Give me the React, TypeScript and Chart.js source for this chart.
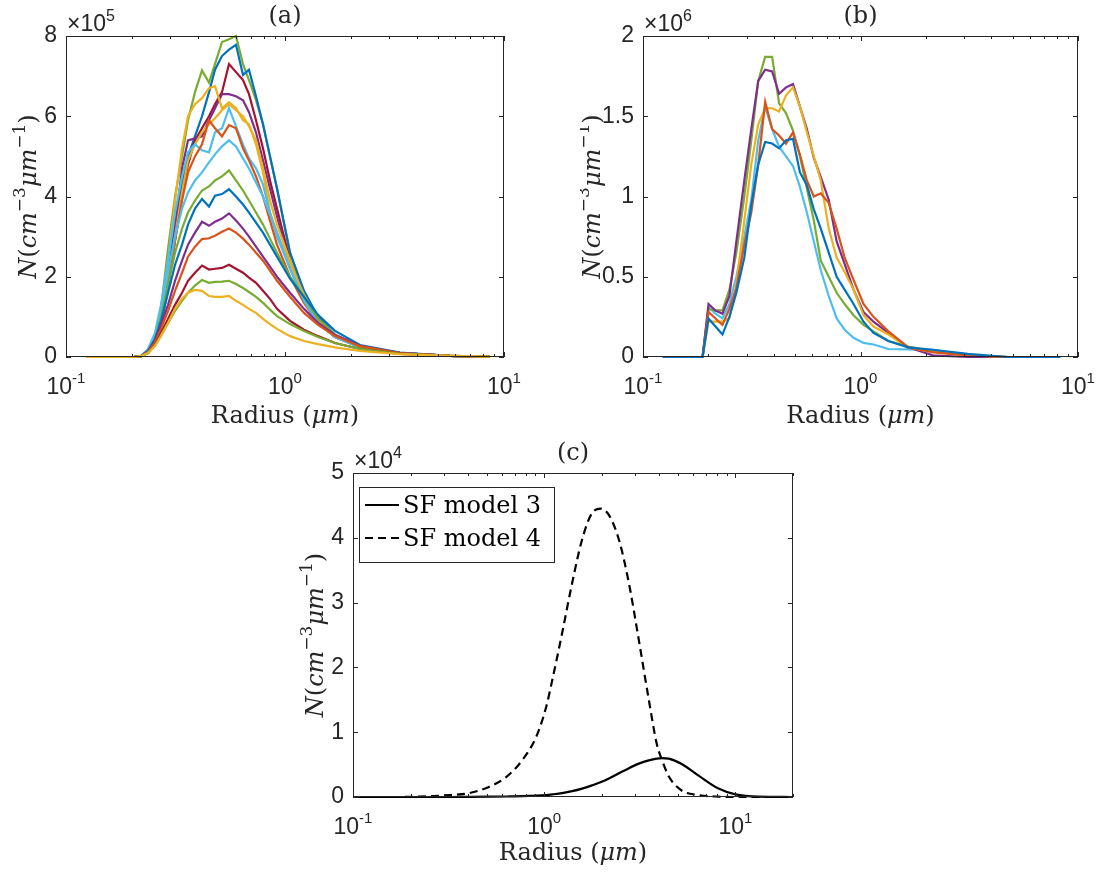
import React, { useEffect, useRef } from 'react';
import { Chart, registerables } from 'chart.js';
Chart.register(...registerables);

const AXIS = '#262626';
const SERIF = '"DejaVu Serif", "Liberation Serif", serif';
const SANS = '"Liberation Sans", Arial, Helvetica, sans-serif';

const BLUE = '#0072BD';
const ORANGE = '#D95319';
const YELLOW = '#EDB120';
const PURPLE = '#7E2F8E';
const GREEN = '#77AC30';
const CYAN = '#4DBEEE';
const DARKRED = '#A2142F';

// ---------- Panel (a): radius (µm) and N in units of 1e5 ----------
const radiusA = [0.1234, 0.2045, 0.22, 0.2368, 0.2549, 0.2716, 0.2924, 0.3147, 0.3387, 0.3607, 0.3882, 0.4178, 0.4498, 0.479, 0.5156, 0.555, 0.5974, 0.643, 0.6848, 0.7371, 0.7934, 0.854, 0.9193, 1.054, 1.221, 1.415, 1.692, 2.2, 3.351, 5.667, 8.633];
const aG1 = [0, 0, 0.02, 0.15, 0.5, 1.2, 2.7, 4.0, 5.0, 5.9, 6.6, 7.14, 6.84, 7.3, 7.85, 7.92, 8.0, 7.3, 6.9, 6.4, 5.8, 5.0, 4.2, 2.6, 1.6, 1.0, 0.55, 0.28, 0.1, 0.03, 0.01];
const aB1 = [0, 0, 0.02, 0.12, 0.45, 1.0, 2.1, 3.3, 4.3, 5.0, 5.5, 6.0, 6.6, 7.16, 7.5, 7.66, 7.78, 7.03, 7.16, 6.5, 5.8, 5.0, 4.2, 2.6, 1.65, 1.0, 0.55, 0.28, 0.1, 0.03, 0.01];
const aR1 = [0, 0, 0.02, 0.12, 0.4, 0.9, 1.8, 2.9, 4.0, 4.8, 5.4, 5.7, 6.0, 6.3, 6.6, 7.3, 7.1, 6.9, 6.55, 5.9, 5.2, 4.4, 3.7, 2.4, 1.5, 0.95, 0.55, 0.25, 0.1, 0.03, 0.01];
const aP1 = [0, 0, 0.02, 0.1, 0.35, 0.8, 1.7, 3.2, 4.7, 5.4, 5.45, 5.5, 5.9, 6.2, 6.55, 6.55, 6.5, 6.4, 6.1, 5.6, 4.9, 4.2, 3.5, 2.3, 1.5, 0.9, 0.5, 0.25, 0.1, 0.03, 0.01];
const aY1 = [0, 0, 0.02, 0.15, 0.5, 1.2, 2.4, 3.9, 5.2, 6.0, 6.3, 6.45, 6.7, 6.75, 6.2, 6.35, 6.2, 5.9, 5.8, 5.3, 4.6, 3.6, 3.1, 2.3, 1.55, 0.95, 0.55, 0.26, 0.1, 0.03, 0.01];
const aY2 = [0, 0, 0.02, 0.12, 0.4, 0.9, 1.8, 3.0, 4.1, 4.9, 5.3, 5.6, 5.8, 5.95, 6.15, 6.3, 6.15, 6.0, 5.75, 5.4, 4.7, 3.9, 3.3, 2.4, 1.5, 0.9, 0.5, 0.25, 0.1, 0.03, 0.01];
const aC1 = [0, 0, 0.03, 0.2, 0.6, 1.3, 2.4, 3.6, 4.5, 5.1, 5.3, 5.15, 5.1, 5.6, 5.7, 6.2, 5.75, 5.3, 4.95, 4.7, 4.3, 3.6, 3.0, 2.2, 1.45, 0.85, 0.5, 0.24, 0.1, 0.03, 0.01];
const aO1 = [0, 0, 0.02, 0.12, 0.4, 0.9, 1.8, 2.9, 3.9, 4.6, 5.0, 5.3, 5.9, 5.7, 5.5, 5.78, 5.7, 5.2, 4.9, 4.5, 4.0, 3.4, 2.8, 2.0, 1.35, 0.85, 0.5, 0.25, 0.1, 0.03, 0.01];
const aC2 = [0, 0, 0.02, 0.15, 0.5, 1.1, 2.1, 3.0, 3.7, 4.1, 4.4, 4.6, 4.85, 5.05, 5.25, 5.4, 5.25, 4.95, 4.7, 4.35, 4.0, 3.55, 3.1, 2.2, 1.4, 0.85, 0.5, 0.24, 0.1, 0.03, 0.01];
const aG2 = [0, 0, 0.02, 0.15, 0.45, 1.0, 1.8, 2.6, 3.2, 3.6, 3.9, 4.15, 4.25, 4.4, 4.5, 4.65, 4.4, 4.15, 3.9, 3.6, 3.3, 2.95, 2.6, 2.0, 1.5, 0.95, 0.55, 0.25, 0.1, 0.03, 0.01];
const aB2 = [0, 0, 0.02, 0.15, 0.45, 0.9, 1.6, 2.3, 2.8, 3.3, 3.7, 3.94, 3.75, 4.02, 4.06, 4.18, 4.0, 3.8, 3.6, 3.35, 3.1, 2.8, 2.5, 1.95, 1.5, 1.05, 0.65, 0.3, 0.11, 0.03, 0.01];
const aP2 = [0, 0, 0.02, 0.12, 0.4, 0.8, 1.3, 1.9, 2.4, 2.8, 3.1, 3.37, 3.27, 3.37, 3.45, 3.58, 3.4, 3.2, 3.0, 2.75, 2.5, 2.25, 2.0, 1.6, 1.2, 0.85, 0.55, 0.28, 0.1, 0.03, 0.01];
const aO2 = [0, 0, 0.02, 0.12, 0.35, 0.7, 1.15, 1.65, 2.1, 2.5, 2.75, 2.94, 2.96, 3.02, 3.12, 3.2, 3.1, 2.95, 2.8, 2.6, 2.4, 2.15, 1.9, 1.5, 1.1, 0.8, 0.52, 0.27, 0.1, 0.03, 0.01];
const aR2 = [0, 0, 0.02, 0.1, 0.3, 0.6, 0.95, 1.3, 1.6, 1.9, 2.1, 2.28, 2.18, 2.2, 2.22, 2.3, 2.2, 2.1, 1.98, 1.85, 1.65, 1.45, 1.2, 0.9, 0.68, 0.52, 0.35, 0.2, 0.08, 0.03, 0.01];
const aG3 = [0, 0, 0.02, 0.1, 0.28, 0.55, 0.85, 1.15, 1.4, 1.6, 1.78, 1.92, 1.85, 1.87, 1.88, 1.9, 1.82, 1.72, 1.62, 1.5, 1.35, 1.18, 1.02, 0.82, 0.65, 0.5, 0.35, 0.2, 0.08, 0.03, 0.01];
const aY3 = [0, 0, 0.02, 0.1, 0.28, 0.52, 0.85, 1.2, 1.45, 1.6, 1.67, 1.65, 1.52, 1.5, 1.5, 1.52, 1.4, 1.3, 1.2, 1.1, 0.95, 0.82, 0.7, 0.52, 0.4, 0.32, 0.24, 0.15, 0.07, 0.03, 0.01];
const yTicksA = [0, 2, 4, 6, 8];

// ---------- Panel (b): radius (µm) and N in units of 1e6 ----------
const radiusB = [0.1234, 0.1879, 0.2001, 0.2154, 0.2319, 0.2496, 0.2687, 0.2923, 0.3147, 0.3387, 0.3645, 0.3924, 0.4223, 0.4546, 0.4893, 0.5267, 0.5668, 0.6101, 0.6568, 0.7144, 0.777, 0.8451, 0.929, 1.032, 1.147, 1.343, 1.657, 2.154, 3.113, 4.741, 8.277];
const bBlue = [0, 0, 0.24, 0.19, 0.14, 0.25, 0.4, 0.62, 0.95, 1.2, 1.34, 1.33, 1.3, 1.35, 1.36, 1.15, 1.07, 0.92, 0.8, 0.65, 0.5, 0.42, 0.33, 0.22, 0.15, 0.1, 0.06, 0.045, 0.02, 0, 0];
const bOrange = [0, 0, 0.28, 0.24, 0.2, 0.3, 0.43, 0.7, 0.9, 1.2, 1.59, 1.42, 1.38, 1.33, 1.4, 1.26, 1.1, 1.0, 1.02, 0.96, 0.8, 0.62, 0.48, 0.33, 0.25, 0.16, 0.06, 0.03, 0.01, 0, 0];
const bYellow = [0, 0, 0.22, 0.22, 0.22, 0.24, 0.45, 0.85, 1.2, 1.45, 1.55, 1.55, 1.53, 1.63, 1.68, 1.56, 1.4, 1.25, 1.1, 0.8, 0.62, 0.53, 0.42, 0.26, 0.19, 0.14, 0.06, 0.03, 0.01, 0, 0];
const bPurple = [0, 0, 0.33, 0.29, 0.27, 0.38, 0.72, 1.1, 1.42, 1.72, 1.79, 1.78, 1.64, 1.68, 1.7, 1.56, 1.42, 1.24, 1.12, 0.98, 0.72, 0.58, 0.42, 0.28, 0.22, 0.15, 0.06, 0.01, 0, 0, 0];
const bGreen = [0, 0, 0.3, 0.29, 0.29, 0.42, 0.65, 1.0, 1.35, 1.72, 1.87, 1.87, 1.58, 1.52, 1.41, 1.25, 1.05, 0.85, 0.6, 0.5, 0.4, 0.33, 0.26, 0.2, 0.16, 0.1, 0.065, 0.035, 0.01, 0, 0];
const bCyan = [0, 0, 0.31, 0.27, 0.24, 0.33, 0.5, 0.75, 0.98, 1.35, 1.56, 1.42, 1.31, 1.25, 1.19, 1.06, 0.9, 0.72, 0.54, 0.38, 0.24, 0.17, 0.12, 0.088, 0.078, 0.05, 0.048, 0.045, 0.01, 0, 0];
const yTicksB = [0, 0.5, 1, 1.5, 2];

// ---------- Panel (c): radius (µm) and N in units of 1e4 ----------
const radiusC = [0.1, 0.1757, 0.261, 0.32, 0.4068, 0.517, 0.6343, 0.7684, 0.9085, 1.024, 1.101, 1.241, 1.399, 1.577, 1.778, 1.982, 2.181, 2.459, 2.772, 3.125, 3.524, 3.877, 4.118, 4.477, 5.234, 6.417, 8.154, 10.0, 13.18, 19.57];
const sfModel3 = [0, 0, 0, 0, 0.002, 0.005, 0.008, 0.012, 0.02, 0.03, 0.04, 0.06, 0.09, 0.13, 0.18, 0.23, 0.285, 0.365, 0.445, 0.515, 0.565, 0.592, 0.6, 0.592, 0.51, 0.33, 0.13, 0.04, 0.005, 0];
const sfModel4 = [0, 0, 0.015, 0.03, 0.06, 0.16, 0.31, 0.57, 0.93, 1.39, 1.8, 2.53, 3.3, 3.97, 4.38, 4.45, 4.35, 3.97, 3.3, 2.42, 1.5, 0.82, 0.58, 0.32, 0.1, 0.03, 0.005, 0, 0, 0];
const yTicksC = [0, 1, 2, 3, 4, 5];
const legendLabels = ['SF model 3', 'SF model 4'];
const xTickDecades = [0.1, 1, 10];
const xTickExps = ['-1', '0', '1'];

type Run = { t: string; f: string; dy?: number };

function runsWidth(ctx: CanvasRenderingContext2D, runs: Run[]) {
  let w = 0;
  for (const r of runs) { ctx.font = r.f; w += ctx.measureText(r.t).width; }
  return w;
}
function drawRuns(ctx: CanvasRenderingContext2D, runs: Run[], x: number, y: number, align: 'left' | 'center') {
  const w = runsWidth(ctx, runs);
  let cx = align === 'left' ? x : x - w / 2;
  ctx.textAlign = 'left';
  ctx.textBaseline = 'alphabetic';
  for (const r of runs) {
    ctx.font = r.f;
    ctx.fillText(r.t, cx, y + (r.dy || 0));
    cx += ctx.measureText(r.t).width;
  }
}

const fSerif = `24px ${SERIF}`;
const fSerifIt = `italic 24px ${SERIF}`;
const fSerifSup = `17px ${SERIF}`;
const fSans = `23px ${SANS}`;
const fSansSup = `15px ${SANS}`;

type Series = { values: number[]; color: string; dash?: number[] };
type Spec = {
  key: string; x: number; y: number; w: number; h: number;
  yWidth: number; padTop: number; padRight: number; xHeight: number;
  xs: number[]; series: Series[]; xMax: number; yMax: number; yTicks: number[];
  title: string; exp: string; yLabelOff: number; xLabelOff: number; smooth?: boolean; legend?: boolean;
};

function panelPlugin(spec: Spec) {
  return {
    id: 'panel_' + spec.key,
    afterDraw(chart: any) {
      const ctx: CanvasRenderingContext2D = chart.ctx;
      const a = chart.chartArea;
      const xs = chart.scales.x;
      const ys = chart.scales.y;
      ctx.save();
      ctx.strokeStyle = AXIS;
      ctx.fillStyle = AXIS;
      ctx.lineWidth = 1;
      // box
      ctx.strokeRect(a.left + 0.5, a.top + 0.5, a.right - a.left - 1, a.bottom - a.top - 1);
      // x ticks (major and minor), inward, bottom and top
      ctx.beginPath();
      for (const d of xTickDecades) {
        for (let k = 1; k <= 9; k++) {
          const v = k * d;
          if (v < 0.0999 || v > spec.xMax * 1.0001) continue;
          const px = Math.round(xs.getPixelForValue(v)) + 0.5;
          const len = k === 1 ? 5 : 3;
          ctx.moveTo(px, a.bottom); ctx.lineTo(px, a.bottom - len);
          ctx.moveTo(px, a.top); ctx.lineTo(px, a.top + len);
        }
      }
      for (const v of spec.yTicks) {
        const py = Math.round(ys.getPixelForValue(v)) + 0.5;
        ctx.moveTo(a.left, py); ctx.lineTo(a.left + 5, py);
        ctx.moveTo(a.right, py); ctx.lineTo(a.right - 5, py);
      }
      ctx.stroke();
      // x tick labels 10^n
      xTickDecades.forEach((v, i) => {
        if (v > spec.xMax * 1.0001) return;
        const px = xs.getPixelForValue(v);
        drawRuns(ctx, [{ t: '10', f: fSans }, { t: xTickExps[i], f: fSansSup, dy: -11 }], px, a.bottom + 37, 'center');
      });
      // exponent label
      drawRuns(ctx, [{ t: '\u00d710', f: `23px ${SANS}` }, { t: spec.exp, f: `16px ${SANS}`, dy: -10 }], a.left + 1, a.top - 5, 'left');
      // title
      drawRuns(ctx, [{ t: spec.title, f: fSerif }], (a.left + a.right) / 2, a.top - 13, 'center');
      // x label
      drawRuns(ctx, [{ t: 'Radius (', f: fSerif }, { t: '\u03bcm', f: fSerifIt }, { t: ')', f: fSerif }], (a.left + a.right) / 2, a.bottom + spec.xLabelOff, 'center');
      // y label (rotated)
      ctx.save();
      ctx.translate(a.left - spec.yLabelOff, (a.top + a.bottom) / 2);
      ctx.rotate(-Math.PI / 2);
      drawRuns(ctx, [
        { t: 'N', f: fSerifIt }, { t: '(', f: fSerif }, { t: 'cm', f: fSerifIt },
        { t: '\u22123', f: fSerifSup, dy: -11 }, { t: '\u03bcm', f: fSerifIt },
        { t: '\u22121', f: fSerifSup, dy: -11 }, { t: ')', f: fSerif },
      ], 0, 0, 'center');
      ctx.restore();
      // legend
      if (spec.legend) {
        const lx = a.left + 6, ly = a.top + 14, lw = 195, lh = 75;
        ctx.fillStyle = '#ffffff';
        ctx.fillRect(lx, ly, lw, lh);
        ctx.strokeStyle = AXIS;
        ctx.lineWidth = 1;
        ctx.strokeRect(lx + 0.5, ly + 0.5, lw, lh);
        spec.series.forEach((s, i) => {
          const ry = ly + 18 + i * 33;
          ctx.strokeStyle = s.color;
          ctx.lineWidth = 2;
          ctx.setLineDash(s.dash || []);
          ctx.beginPath();
          ctx.moveTo(lx + 6, ry); ctx.lineTo(lx + 40, ry);
          ctx.stroke();
          ctx.setLineDash([]);
          ctx.fillStyle = '#000000';
          drawRuns(ctx, [{ t: legendLabels[i], f: fSerif }], lx + 44, ry + 8, 'left');
        });
      }
      ctx.restore();
    },
  };
}

function buildConfig(spec: Spec): any {
  return {
    type: 'line',
    data: {
      datasets: spec.series.map((s, i) => ({
        label: spec.legend ? legendLabels[i] : `${spec.key}${i}`,
        data: spec.xs.map((x, j) => ({ x, y: s.values[j] })),
        borderColor: s.color,
        backgroundColor: s.color,
        borderWidth: 2.2,
        borderDash: s.dash || [],
        pointRadius: 0,
        fill: false,
        tension: 0,
        clip: false,
        cubicInterpolationMode: spec.smooth ? 'monotone' : 'default',
      })),
    },
    options: {
      animation: false,
      responsive: false,
      maintainAspectRatio: false,
      events: [],
      layout: { padding: { left: 0, top: spec.padTop, right: spec.padRight, bottom: 0 } },
      plugins: { legend: { display: false }, tooltip: { enabled: false }, title: { display: false } },
      scales: {
        x: {
          type: 'logarithmic', min: 0.1, max: spec.xMax,
          grid: { display: false, drawTicks: false }, border: { display: false },
          ticks: { display: false },
          afterFit: (s: any) => { s.height = spec.xHeight; },
        },
        y: {
          type: 'linear', min: 0, max: spec.yMax,
          grid: { display: false, drawTicks: false }, border: { display: false },
          afterBuildTicks: (s: any) => { s.ticks = spec.yTicks.map((v) => ({ value: v })); },
          ticks: {
            color: AXIS, font: { family: SANS, size: 23 }, padding: 9,
            callback: (v: number) => String(v),
          },
          afterFit: (s: any) => { s.width = spec.yWidth; },
        },
      },
    },
    plugins: [panelPlugin(spec)],
  };
}

const specs: Spec[] = [
  {
    key: 'a', x: 0, y: 0, w: 550, h: 430, yWidth: 66, padTop: 36, padRight: 46, xHeight: 73,
    xs: radiusA, xMax: 10, yMax: 8, yTicks: yTicksA, title: '(a)', exp: '5', yLabelOff: 30, xLabelOff: 66,
    series: [
      { values: aY3, color: YELLOW }, { values: aG3, color: GREEN }, { values: aR2, color: DARKRED },
      { values: aO2, color: ORANGE }, { values: aP2, color: PURPLE }, { values: aB2, color: BLUE },
      { values: aG2, color: GREEN }, { values: aC2, color: CYAN }, { values: aO1, color: ORANGE },
      { values: aC1, color: CYAN }, { values: aY2, color: YELLOW }, { values: aY1, color: YELLOW },
      { values: aP1, color: PURPLE }, { values: aR1, color: DARKRED }, { values: aB1, color: BLUE },
      { values: aG1, color: GREEN },
    ],
  },
  {
    key: 'b', x: 580, y: 0, w: 527, h: 430, yWidth: 63, padTop: 36, padRight: 29, xHeight: 73,
    xs: radiusB, xMax: 10, yMax: 2, yTicks: yTicksB, title: '(b)', exp: '6', yLabelOff: 43, xLabelOff: 66,
    series: [
      { values: bBlue, color: BLUE }, { values: bOrange, color: ORANGE }, { values: bYellow, color: YELLOW },
      { values: bPurple, color: PURPLE }, { values: bGreen, color: GREEN }, { values: bCyan, color: CYAN },
    ],
  },
  {
    key: 'c', x: 290, y: 440, w: 540, h: 433, yWidth: 63, padTop: 33, padRight: 37, xHeight: 76,
    xs: radiusC, xMax: 20, yMax: 5, yTicks: yTicksC, title: '(c)', exp: '4', yLabelOff: 30, xLabelOff: 63,
    smooth: true, legend: true,
    series: [
      { values: sfModel3, color: '#000000' },
      { values: sfModel4, color: '#000000', dash: [8, 5] },
    ],
  },
];

function Panel({ spec }: { spec: Spec }) {
  const ref = useRef<HTMLCanvasElement>(null);
  useEffect(() => {
    const chart = new Chart(ref.current as HTMLCanvasElement, buildConfig(spec));
    return () => chart.destroy();
  }, [spec]);
  return (
    <canvas
      ref={ref}
      width={spec.w}
      height={spec.h}
      style={{ position: 'absolute', left: spec.x, top: spec.y, width: spec.w, height: spec.h }}
    />
  );
}

export default function App() {
  return (
    <div style={{ position: 'absolute', left: 0, top: 0, width: 1107, height: 873, background: '#ffffff', overflow: 'hidden' }}>
      {specs.map((s) => <Panel key={s.key} spec={s} />)}
    </div>
  );
}
